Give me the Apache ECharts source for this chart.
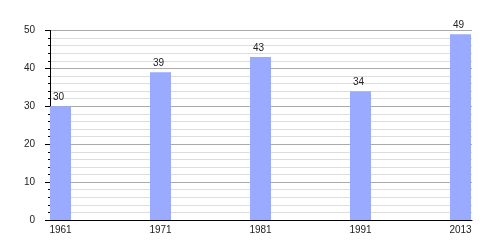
<!DOCTYPE html>
<html><head><meta charset="utf-8">
<script src="https://cdn.jsdelivr.net/npm/echarts@6/dist/echarts.min.js"></script>
<style>html,body{margin:0;padding:0;background:#fff}#c{width:500px;height:250px}</style>
</head><body><div id="c"></div>
<script>
const categories = ['1961', '1971', '1981', '1991', '2013'];
const values = [30, 39, 43, 34, 49];
const yTicks = [0, 10, 20, 30, 40, 50];

const font = 'Liberation Sans, Arial, sans-serif';
const chart = echarts.init(document.getElementById('c'), null, {renderer: 'canvas'});
chart.setOption({
  animation: false,
  grid: [
    {left: 50, right: 28, top: 30.5, bottom: 30},
    {left: 60.5, right: 39.5, top: 30.5, bottom: 30}
  ],
  xAxis: [
    {type: 'value', gridIndex: 0, min: 0, max: 1,
     axisLine: {show: true, lineStyle: {color: '#000', width: 1}},
     axisTick: {show: false}, axisLabel: {show: false}, splitLine: {show: false}},
    {type: 'category', gridIndex: 1, data: categories, boundaryGap: false,
     axisLine: {show: false}, axisTick: {show: false},
     axisLabel: {margin: 5, fontSize: 10, fontFamily: font, color: '#222'}}
  ],
  yAxis: [
    {type: 'value', gridIndex: 0, min: yTicks[0], max: yTicks[yTicks.length - 1], interval: 10,
     axisLine: {show: true, lineStyle: {color: '#000', width: 1}},
     axisTick: {show: true, length: 5, lineStyle: {color: '#000'}},
     minorTick: {show: true, splitNumber: 5, length: 2, lineStyle: {color: '#000'}},
     axisLabel: {margin: 15, fontSize: 10, fontFamily: font, color: '#222'},
     splitLine: {show: true, lineStyle: {color: '#aaa', width: 1}},
     minorSplitLine: {show: true, lineStyle: {color: '#ddd', width: 1}}},
    {type: 'value', gridIndex: 1, min: 0, max: 50, show: false}
  ],
  series: [{
    type: 'bar', xAxisIndex: 1, yAxisIndex: 1, data: values, barWidth: 21,
    itemStyle: {color: '#99aaff'},
    label: {show: true, position: 'top', distance: 4, offset: [-2, 0],
            fontSize: 10, fontFamily: font, color: '#222'}
  }]
});
</script></body></html>
